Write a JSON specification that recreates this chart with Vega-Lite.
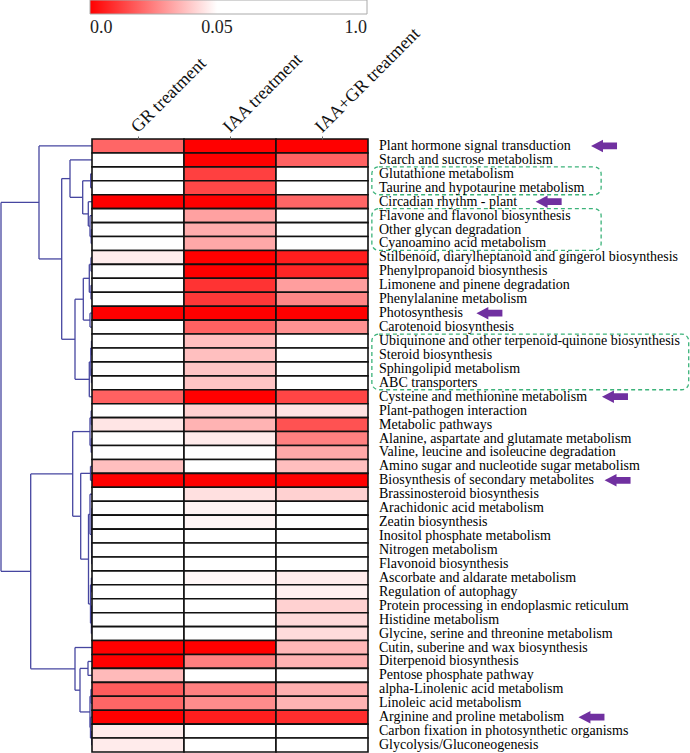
{
  "$schema": "https://vega.github.io/schema/vega-lite/v6.json",
  "padding": 0,
  "background": "white",
  "bounds": "flush",
  "spacing": 0,
  "config": {"view": {"stroke": null}, "axis": {"grid": false}},
  "datasets": {
    "cells": [
      {"idx": 0, "pathway": "Plant hormone signal transduction", "GR treatment": 0.0015, "IAA treatment": 0, "IAA+GR treatment": 0},
      {"idx": 1, "pathway": "Starch and sucrose metabolism", "GR treatment": 0.5, "IAA treatment": 0, "IAA+GR treatment": 0.0013},
      {"idx": 2, "pathway": "Glutathione metabolism", "GR treatment": 0.5, "IAA treatment": 0.00024, "IAA+GR treatment": 0.5},
      {"idx": 3, "pathway": "Taurine and hypotaurine metabolism", "GR treatment": 0.5, "IAA treatment": 0.00037, "IAA+GR treatment": 0.5},
      {"idx": 4, "pathway": "Circadian rhythm - plant", "GR treatment": 0, "IAA treatment": 0, "IAA+GR treatment": 0.0015},
      {"idx": 5, "pathway": "Flavone and flavonol biosynthesis", "GR treatment": 0.5, "IAA treatment": 0.0085, "IAA+GR treatment": 0.5},
      {"idx": 6, "pathway": "Other glycan degradation", "GR treatment": 0.5, "IAA treatment": 0.0113, "IAA+GR treatment": 0.5},
      {"idx": 7, "pathway": "Cyanoamino acid metabolism", "GR treatment": 0.5, "IAA treatment": 0.0101, "IAA+GR treatment": 0.5},
      {"idx": 8, "pathway": "Stilbenoid, diarylheptanoid and gingerol biosynthesis", "GR treatment": 0.0378, "IAA treatment": 0, "IAA+GR treatment": 0.000014},
      {"idx": 9, "pathway": "Phenylpropanoid biosynthesis", "GR treatment": 0.5, "IAA treatment": 0, "IAA+GR treatment": 0.000034},
      {"idx": 10, "pathway": "Limonene and pinene degradation", "GR treatment": 0.5, "IAA treatment": 0.0001, "IAA+GR treatment": 0.008},
      {"idx": 11, "pathway": "Phenylalanine metabolism", "GR treatment": 0.5, "IAA treatment": 0.00015, "IAA+GR treatment": 0.0043},
      {"idx": 12, "pathway": "Photosynthesis", "GR treatment": 0, "IAA treatment": 0, "IAA+GR treatment": 0},
      {"idx": 13, "pathway": "Carotenoid biosynthesis", "GR treatment": 0.5, "IAA treatment": 0.0012, "IAA+GR treatment": 0.0058},
      {"idx": 14, "pathway": "Ubiquinone and other terpenoid-quinone biosynthesis", "GR treatment": 0.5, "IAA treatment": 0.0165, "IAA+GR treatment": 0.5},
      {"idx": 15, "pathway": "Steroid biosynthesis", "GR treatment": 0.5, "IAA treatment": 0.0165, "IAA+GR treatment": 0.5},
      {"idx": 16, "pathway": "Sphingolipid metabolism", "GR treatment": 0.5, "IAA treatment": 0.0183, "IAA+GR treatment": 0.5},
      {"idx": 17, "pathway": "ABC transporters", "GR treatment": 0.5, "IAA treatment": 0.0183, "IAA+GR treatment": 0.5},
      {"idx": 18, "pathway": "Cysteine and methionine metabolism", "GR treatment": 0.0012, "IAA treatment": 0, "IAA+GR treatment": 0.00033},
      {"idx": 19, "pathway": "Plant-pathogen interaction", "GR treatment": 0.5, "IAA treatment": 0.0233, "IAA+GR treatment": 0.0319},
      {"idx": 20, "pathway": "Metabolic pathways", "GR treatment": 0.0333, "IAA treatment": 0.0127, "IAA+GR treatment": 0.00063},
      {"idx": 21, "pathway": "Alanine, aspartate and glutamate metabolism", "GR treatment": 0.5, "IAA treatment": 0.0363, "IAA+GR treatment": 0.0035},
      {"idx": 22, "pathway": "Valine, leucine and isoleucine degradation", "GR treatment": 0.5, "IAA treatment": 0.5, "IAA+GR treatment": 0.0101},
      {"idx": 23, "pathway": "Amino sugar and nucleotide sugar metabolism", "GR treatment": 0.0165, "IAA treatment": 0.5, "IAA+GR treatment": 0.0165},
      {"idx": 24, "pathway": "Biosynthesis of secondary metabolites", "GR treatment": 0, "IAA treatment": 0, "IAA+GR treatment": 0},
      {"idx": 25, "pathway": "Brassinosteroid biosynthesis", "GR treatment": 0.5, "IAA treatment": 0.0306, "IAA+GR treatment": 0.0233},
      {"idx": 26, "pathway": "Arachidonic acid metabolism", "GR treatment": 0.5, "IAA treatment": 0.041, "IAA+GR treatment": 0.5},
      {"idx": 27, "pathway": "Zeatin biosynthesis", "GR treatment": 0.5, "IAA treatment": 0.0427, "IAA+GR treatment": 0.5},
      {"idx": 28, "pathway": "Inositol phosphate metabolism", "GR treatment": 0.5, "IAA treatment": 0.5, "IAA+GR treatment": 0.5},
      {"idx": 29, "pathway": "Nitrogen metabolism", "GR treatment": 0.5, "IAA treatment": 0.5, "IAA+GR treatment": 0.5},
      {"idx": 30, "pathway": "Flavonoid biosynthesis", "GR treatment": 0.5, "IAA treatment": 0.5, "IAA+GR treatment": 0.5},
      {"idx": 31, "pathway": "Ascorbate and aldarate metabolism", "GR treatment": 0.5, "IAA treatment": 0.0445, "IAA+GR treatment": 0.0363},
      {"idx": 32, "pathway": "Regulation of autophagy", "GR treatment": 0.5, "IAA treatment": 0.5, "IAA+GR treatment": 0.0394},
      {"idx": 33, "pathway": "Protein processing in endoplasmic reticulum", "GR treatment": 0.5, "IAA treatment": 0.5, "IAA+GR treatment": 0.0233},
      {"idx": 34, "pathway": "Histidine metabolism", "GR treatment": 0.5, "IAA treatment": 0.5, "IAA+GR treatment": 0.0268},
      {"idx": 35, "pathway": "Glycine, serine and threonine metabolism", "GR treatment": 0.5, "IAA treatment": 0.5, "IAA+GR treatment": 0.028},
      {"idx": 36, "pathway": "Cutin, suberine and wax biosynthesis", "GR treatment": 0, "IAA treatment": 0, "IAA+GR treatment": 0.0141},
      {"idx": 37, "pathway": "Diterpenoid biosynthesis", "GR treatment": 0, "IAA treatment": 0.0035, "IAA+GR treatment": 0.0127},
      {"idx": 38, "pathway": "Pentose phosphate pathway", "GR treatment": 0.0149, "IAA treatment": 0.5, "IAA+GR treatment": 0.5},
      {"idx": 39, "pathway": "alpha-Linolenic acid metabolism", "GR treatment": 0.00098, "IAA treatment": 0.0035, "IAA+GR treatment": 0.012},
      {"idx": 40, "pathway": "Linoleic acid metabolism", "GR treatment": 0.0015, "IAA treatment": 0.005, "IAA+GR treatment": 0.0127},
      {"idx": 41, "pathway": "Arginine and proline metabolism", "GR treatment": 0, "IAA treatment": 0.000014, "IAA+GR treatment": 0.000068},
      {"idx": 42, "pathway": "Carbon fixation in photosynthetic organisms", "GR treatment": 0.0363, "IAA treatment": 0.5, "IAA+GR treatment": 0.5},
      {"idx": 43, "pathway": "Glycolysis/Gluconeogenesis", "GR treatment": 0.0363, "IAA treatment": 0.5, "IAA+GR treatment": 0.5}
    ],
    "tree": [
      {"h": 0.8, "yl": 6, "hl": 0, "yr": 7, "hr": 0},
      {"h": 2, "yl": 5, "hl": 0, "yr": 6.5, "hr": 0.8},
      {"h": 3.7, "yl": 4, "hl": 0, "yr": 5.75, "hr": 2},
      {"h": 1.3, "yl": 2, "hl": 0, "yr": 3, "hr": 0},
      {"h": 9.3, "yl": 2.5, "hl": 1.3, "yr": 4.875, "hr": 3.7},
      {"h": 22, "yl": 1, "hl": 0, "yr": 3.6875, "hr": 9.3},
      {"h": 1, "yl": 8, "hl": 0, "yr": 9, "hr": 0},
      {"h": 1, "yl": 10, "hl": 0, "yr": 11, "hr": 0},
      {"h": 2.7, "yl": 8.5, "hl": 1, "yr": 10.5, "hr": 1},
      {"h": 2, "yl": 12, "hl": 0, "yr": 13, "hr": 0},
      {"h": 8.7, "yl": 9.5, "hl": 2.7, "yr": 12.5, "hr": 2},
      {"h": 0.5, "yl": 14, "hl": 0, "yr": 15, "hr": 0},
      {"h": 0.5, "yl": 16, "hl": 0, "yr": 17, "hr": 0},
      {"h": 1.2, "yl": 14.5, "hl": 0.5, "yr": 16.5, "hr": 0.5},
      {"h": 2.7, "yl": 15.5, "hl": 1.2, "yr": 18, "hr": 0},
      {"h": 17, "yl": 11, "hl": 8.7, "yr": 16.75, "hr": 2.7},
      {"h": 30.3, "yl": 2.34375, "hl": 22, "yr": 13.875, "hr": 17},
      {"h": 53, "yl": 0, "hl": 0, "yr": 8.109, "hr": 30.3},
      {"h": 0.8, "yl": 19, "hl": 0, "yr": 20, "hr": 0},
      {"h": 0.8, "yl": 21, "hl": 0, "yr": 22, "hr": 0},
      {"h": 2, "yl": 19.5, "hl": 0.8, "yr": 21.5, "hr": 0.8},
      {"h": 1.5, "yl": 23, "hl": 0, "yr": 24, "hr": 0},
      {"h": 0.2, "yl": 26, "hl": 0, "yr": 27, "hr": 0},
      {"h": 0.2, "yl": 28, "hl": 0, "yr": 29, "hr": 0},
      {"h": 0.3, "yl": 28.5, "hl": 0.2, "yr": 30, "hr": 0},
      {"h": 0.4, "yl": 26.5, "hl": 0.2, "yr": 29.25, "hr": 0.3},
      {"h": 2, "yl": 25, "hl": 0, "yr": 27.875, "hr": 0.4},
      {"h": 0.6, "yl": 31, "hl": 0, "yr": 32, "hr": 0},
      {"h": 0.4, "yl": 33, "hl": 0, "yr": 34, "hr": 0},
      {"h": 0.6, "yl": 33.5, "hl": 0.4, "yr": 35, "hr": 0},
      {"h": 1.5, "yl": 31.5, "hl": 0.6, "yr": 34.25, "hr": 0.6},
      {"h": 3.5, "yl": 26.4375, "hl": 2, "yr": 32.875, "hr": 1.5},
      {"h": 11.3, "yl": 23.5, "hl": 1.5, "yr": 29.656, "hr": 3.5},
      {"h": 19.3, "yl": 20.5, "hl": 2, "yr": 26.578, "hr": 11.3},
      {"h": 4, "yl": 37, "hl": 0, "yr": 38, "hr": 0},
      {"h": 1, "yl": 39, "hl": 0, "yr": 40, "hr": 0},
      {"h": 0.3, "yl": 42, "hl": 0, "yr": 43, "hr": 0},
      {"h": 1.5, "yl": 41, "hl": 0, "yr": 42.5, "hr": 0.3},
      {"h": 2, "yl": 39.5, "hl": 1, "yr": 41.75, "hr": 1.5},
      {"h": 12, "yl": 37.5, "hl": 4, "yr": 40.625, "hr": 2},
      {"h": 17, "yl": 36, "hl": 0, "yr": 39.0625, "hr": 12},
      {"h": 61.3, "yl": 23.539, "hl": 19.3, "yr": 37.531, "hr": 17},
      {"h": 91, "yl": 4.055, "hl": 53, "yr": 30.535, "hr": 61.3}
    ],
    "arrows": [
      {"idx": 0, "pos": 73.3},
      {"idx": 4, "pos": 56.1},
      {"idx": 12, "pos": 37.7},
      {"idx": 18, "pos": 76.7},
      {"idx": 24, "pos": 77.5},
      {"idx": 41, "pos": 69.4}
    ],
    "boxes": [
      {"left": 1.2, "right": 72.4, "top": 1.5, "bottom": 3.5},
      {"left": 1.2, "right": 72.4, "top": 4.5, "bottom": 7.5},
      {"left": 1.2, "right": 99.6, "top": 13.5, "bottom": 17.5}
    ]
  },
  "hconcat": [
    {
      "width": 92,
      "height": 613,
      "data": {"name": "tree"},
      "layer": [
        {
          "mark": {"type": "rule", "color": "#4646a0", "strokeWidth": 1.3},
          "encoding": {
            "x": {"field": "h", "type": "quantitative", "scale": {"domain": [0, 92], "reverse": true, "nice": false, "zero": false}, "axis": null},
            "y": {"field": "yl", "type": "quantitative", "scale": {"domain": [-0.5, 43.5], "reverse": true, "nice": false, "zero": false}, "axis": null},
            "y2": {"field": "yr"}
          }
        },
        {
          "mark": {"type": "rule", "color": "#4646a0", "strokeWidth": 1.3},
          "encoding": {
            "x": {"field": "h", "type": "quantitative", "axis": null},
            "x2": {"field": "hl"},
            "y": {"field": "yl", "type": "quantitative", "axis": null}
          }
        },
        {
          "mark": {"type": "rule", "color": "#4646a0", "strokeWidth": 1.3},
          "encoding": {
            "x": {"field": "h", "type": "quantitative", "axis": null},
            "x2": {"field": "hr"},
            "y": {"field": "yr", "type": "quantitative", "axis": null}
          }
        }
      ]
    },
    {
      "width": 276,
      "height": 613,
      "data": {"name": "cells"},
      "transform": [{"fold": ["GR treatment", "IAA treatment", "IAA+GR treatment"], "as": ["treatment", "p"]}],
      "mark": {"type": "rect", "stroke": "#111111", "strokeWidth": 1.6},
      "encoding": {
        "x": {
          "field": "treatment", "type": "nominal",
          "sort": ["GR treatment", "IAA treatment", "IAA+GR treatment"],
          "scale": {"paddingInner": 0, "paddingOuter": 0},
          "axis": {"orient": "top", "title": null, "labelAngle": -45, "labelAlign": "left", "labelBaseline": "alphabetic", "labelFont": "Liberation Serif", "labelFontSize": 18, "labelColor": "#111111", "tickSize": 3, "tickColor": "#666666", "domain": false, "labelPadding": 3, "labelLimit": 300}
        },
        "y": {"field": "pathway", "type": "nominal", "sort": {"field": "idx", "op": "min"}, "scale": {"paddingInner": 0, "paddingOuter": 0}, "axis": null},
        "color": {
          "field": "p", "type": "quantitative",
          "scale": {"type": "pow", "exponent": 0.26, "domain": [0, 0.05, 1], "range": ["#ff0000", "#ffffff", "#ffffff"], "interpolate": "rgb"},
          "legend": {
            "orient": "none", "legendX": 90, "legendY": -139, "direction": "horizontal",
            "gradientLength": 277, "gradientThickness": 14, "title": null, "padding": 0,
            "values": [0, 0.05, 1],
            "labelExpr": "datum.value == 0 ? '0.0' : (datum.value == 1 ? '1.0' : '0.05')",
            "labelFont": "Liberation Serif", "labelFontSize": 18, "labelColor": "#222222",
            "labelAlign": "center", "labelOffset": 5, "labelOverlap": false,
            "gradientStrokeColor": "#aaaaaa", "gradientStrokeWidth": 1
          }
        }
      }
    },
    {
      "width": 322,
      "height": 613,
      "layer": [
        {
          "data": {"name": "boxes"},
          "mark": {"type": "rect", "fill": "white", "fillOpacity": 0, "stroke": "#3cb37a", "strokeDash": [4, 3], "strokeWidth": 1.3, "cornerRadius": 7},
          "encoding": {
            "x": {"field": "left", "type": "quantitative", "scale": {"domain": [0, 100], "nice": false, "zero": false}, "axis": null},
            "x2": {"field": "right"},
            "y": {"field": "top", "type": "quantitative", "scale": {"domain": [-0.5, 43.5], "reverse": true, "nice": false, "zero": false}, "axis": null},
            "y2": {"field": "bottom"}
          }
        },
        {
          "data": {"name": "cells"},
          "mark": {"type": "text", "align": "left", "baseline": "middle", "dx": 11, "font": "Liberation Serif", "fontSize": 14, "color": "#000000"},
          "encoding": {
            "x": {"datum": 0, "type": "quantitative", "axis": null},
            "y": {"field": "idx", "type": "quantitative", "axis": null},
            "text": {"field": "pathway"}
          }
        },
        {
          "data": {"name": "arrows"},
          "mark": {"type": "point", "shape": "M -1 0 L -0.08 -0.48 L -0.08 -0.26 L 1 -0.26 L 1 0.26 L -0.08 0.26 L -0.08 0.48 Z", "filled": true, "size": 676, "color": "#7030a0", "opacity": 1, "strokeWidth": 0},
          "encoding": {
            "x": {"field": "pos", "type": "quantitative", "axis": null},
            "y": {"field": "idx", "type": "quantitative", "axis": null}
          }
        }
      ]
    }
  ]
}
